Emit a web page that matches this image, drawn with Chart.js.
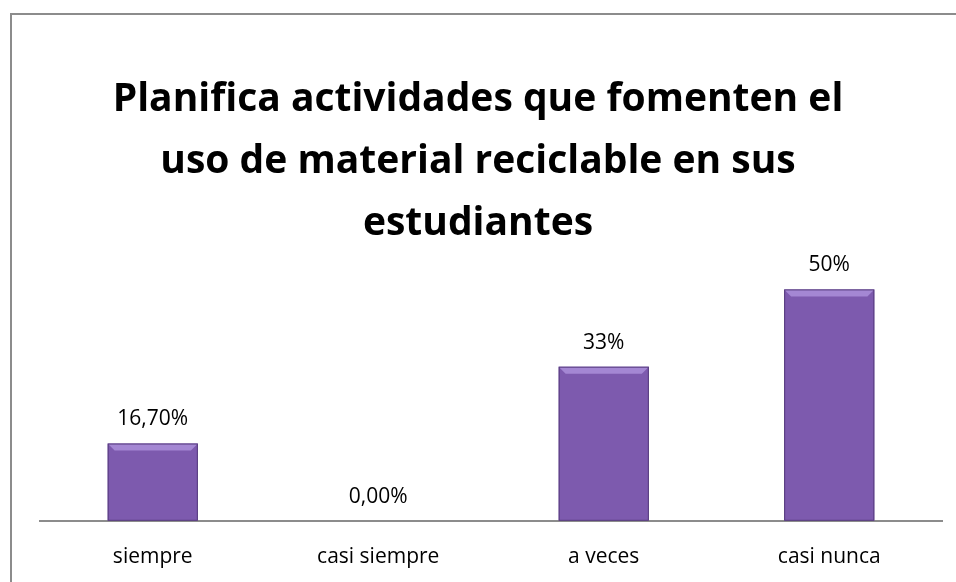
<!DOCTYPE html>
<html lang="es">
<head>
  <meta charset="UTF-8" />
  <title>Planifica actividades que fomenten el uso de material reciclable</title>
  <script src="https://cdn.jsdelivr.net/npm/chart.js"></script>
  <style>
    html, body { margin: 0; padding: 0; background: #fff; overflow: hidden; width: 956px; height: 582px; }
    .frame { position: absolute; left: 10px; top: 13px; width: 960px; height: 600px;
             border-left: 2px solid #8c8c8c; border-top: 2px solid #8c8c8c; }
    .chart-box { position: absolute; left: 0; top: 0; width: 956px; height: 589px; }
    .chart-title { position: absolute; left: 0; top: 65px; width: 956px; text-align: center;
                   font-family: "Open Sans", "Liberation Sans", sans-serif; font-weight: bold;
                   font-size: 39px; line-height: 62px; color: #000; }
  </style>
</head>
<body>
  <div class="frame"></div>
  <div class="chart-box"><canvas id="bars"></canvas></div>
  <div class="chart-title" id="title"></div>
  <script>
    // data
    const categories = ['siempre', 'casi siempre', 'a veces', 'casi nunca'];
    const percentValues = [16.7, 0, 33.3, 50];
    const valueLabels = ['16,70%', '0,00%', '33%', '50%'];
    const titleLines = ['Planifica actividades que fomenten el', 'uso de material reciclable en sus', 'estudiantes'];

    const FONT = '"Open Sans", "Liberation Sans", sans-serif';

    const titleEl = document.getElementById('title');
    titleLines.forEach(line => {
      const d = document.createElement('div');
      d.textContent = line;
      titleEl.appendChild(d);
    });

    // purple bar with a bevelled look
    const barFill = (ctx) => {
      const el = ctx.element;
      const c = ctx.chart.ctx;
      if (!el || !isFinite(el.x)) return '#7d5aae';
      const half = (el.width || 90) / 2;
      const g = c.createLinearGradient(el.x - half, 0, el.x + half, 0);
      g.addColorStop(0, '#5f4288');
      g.addColorStop(0.07, '#7f5db0');
      g.addColorStop(0.5, '#7c5aac');
      g.addColorStop(0.93, '#7655a5');
      g.addColorStop(1, '#523875');
      return g;
    };

    const bevelPlugin = {
      id: 'bevel',
      afterDatasetsDraw(chart) {
        const c = chart.ctx;
        chart.getDatasetMeta(0).data.forEach(bar => {
          const h = bar.base - bar.y;
          if (h < 2) return;
          const l = bar.x - bar.width / 2, r = bar.x + bar.width / 2;
          const b = Math.min(7, h / 2);
          c.save();
          // top bevel
          c.fillStyle = 'rgba(190,165,235,0.6)';
          c.beginPath();
          c.moveTo(l, bar.y); c.lineTo(r, bar.y); c.lineTo(r - b, bar.y + b); c.lineTo(l + b, bar.y + b);
          c.closePath(); c.fill();
          c.strokeStyle = '#553a7c';
          c.lineWidth = 1;
          c.strokeRect(l + 0.5, bar.y + 0.5, bar.width - 1, h - 1);
          c.restore();
        });
      }
    };

    const valueLabelPlugin = {
      id: 'valueLabels',
      afterDatasetsDraw(chart) {
        const c = chart.ctx;
        c.save();
        c.font = '21px ' + FONT;
        c.fillStyle = '#000';
        c.textAlign = 'center';
        c.textBaseline = 'middle';
        chart.getDatasetMeta(0).data.forEach((bar, i) => {
          c.fillText(valueLabels[i], bar.x, bar.y - 24);
        });
        c.restore();
      }
    };

    new Chart(document.getElementById('bars'), {
      type: 'bar',
      data: {
        labels: categories,
        datasets: [{
          data: percentValues,
          backgroundColor: barFill,
          borderWidth: 0,
          barPercentage: 0.4,
          categoryPercentage: 1
        }]
      },
      options: {
        responsive: true,
        maintainAspectRatio: false,
        animation: false,
        layout: { padding: { left: 40, right: 14, top: 257, bottom: 3 } },
        plugins: {
          legend: { display: false },
          tooltip: { enabled: false },
          title: { display: false }
        },
        scales: {
          x: {
            grid: { display: false },
            border: { display: true, color: '#8c8c8c', width: 2 },
            ticks: { color: '#000', padding: 16, font: { family: FONT, size: 21 } }
          },
          y: {
            display: false,
            min: 0,
            max: 57
          }
        }
      },
      plugins: [bevelPlugin, valueLabelPlugin]
    });
  </script>
</body>
</html>
